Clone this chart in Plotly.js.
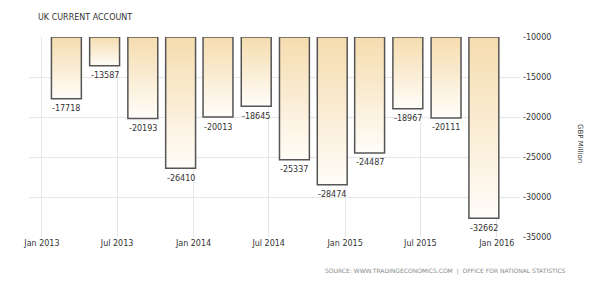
<!DOCTYPE html>
<html>
<head>
<meta charset="utf-8">
<script src="https://cdn.plot.ly/plotly-3.0.1.min.js"></script>
<style>
  html, body { margin: 0; padding: 0; background: #ffffff; }
  #chart { width: 607px; height: 284px; }
</style>
</head>
<body>
<div id="chart"></div>
<script>
// ---- data ----
const quarters = ['2013-03-01','2013-06-01','2013-09-01','2013-12-01',
                  '2014-03-01','2014-06-01','2014-09-01','2014-12-01',
                  '2015-03-01','2015-06-01','2015-09-01','2015-12-01'];
const balance = [-17718,-13587,-20193,-26410,-20013,-18645,-25337,-28474,-24487,-18967,-20111,-32662];
const baseline = -10000;
const xTickDates = ['2013-01-01','2013-07-01','2014-01-01','2014-07-01','2015-01-01','2015-07-01','2016-01-01'];
const xTickLabels = ['Jan 2013','Jul 2013','Jan 2014','Jul 2014','Jan 2015','Jul 2015','Jan 2016'];
const yTickVals = [-35000,-30000,-25000,-20000,-15000,-10000];
const yTickLabels = yTickVals.map(String);

const FONT = 'DejaVu Sans, Verdana, sans-serif';
const DAY = 86400000;

const trace = {
  type: 'bar',
  x: quarters,
  y: balance.map(v => v - baseline),
  base: baseline,
  width: 72 * DAY,
  marker: { color: '#f5dcae', line: { color: '#555555', width: 1.5 } },
  hoverinfo: 'none'
};

const valueLabels = quarters.map((q, i) => ({
  x: q, y: balance[i], xref: 'x', yref: 'y',
  text: String(balance[i]), showarrow: false,
  xanchor: 'center', yanchor: 'middle', yshift: -10,
  font: { family: FONT, size: 8, color: '#333333' }
}));

const layout = {
  width: 607, height: 284,
  margin: { l: 29, r: 87, t: 37, b: 47 },
  paper_bgcolor: '#ffffff',
  plot_bgcolor: '#ffffff',
  showlegend: false,
  font: { family: FONT, size: 8, color: '#333333' },
  xaxis: {
    type: 'date',
    range: ['2012-12-01', '2016-02-26'],
    tickmode: 'array',
    tickvals: xTickDates,
    ticktext: xTickLabels,
    showgrid: true,
    gridcolor: '#e6e6e6',
    gridwidth: 1,
    zeroline: false,
    showline: false,
    ticks: '',
    tickfont: { family: FONT, size: 8, color: '#333333' }
  },
  yaxis: {
    side: 'right',
    range: [-35000, -10000],
    tickmode: 'array',
    tickvals: yTickVals,
    ticktext: yTickLabels,
    showgrid: true,
    gridcolor: '#e6e6e6',
    gridwidth: 1,
    zeroline: false,
    showline: false,
    ticks: '',
    ticklabelstandoff: 2,
    tickfont: { family: FONT, size: 8, color: '#333333' }
  },
  annotations: valueLabels.concat([
    { text: 'UK CURRENT ACCOUNT', xref: 'paper', yref: 'paper', x: 0.015, y: 1, yshift: 20,
      xanchor: 'left', yanchor: 'middle', showarrow: false,
      font: { family: FONT, size: 8, color: '#333333' } },
    { text: 'GBP Million', xref: 'paper', yref: 'paper', x: 1, xshift: 60, y: 0.47,
      xanchor: 'center', yanchor: 'middle', textangle: 90, showarrow: false,
      font: { family: FONT, size: 7, color: '#333333' } },
    { text: 'SOURCE: WWW.TRADINGECONOMICS.COM  |  OFFICE FOR NATIONAL STATISTICS',
      xref: 'paper', yref: 'paper', x: 1, xshift: 48, y: 0, yshift: -34,
      xanchor: 'right', yanchor: 'middle', showarrow: false,
      font: { family: FONT, size: 6, color: '#8a8a8a' } }
  ])
};

Plotly.newPlot('chart', [trace], layout, { staticPlot: true, displayModeBar: false }).then(gd => {
  const svg = gd.querySelector('svg.main-svg');
  const ns = 'http://www.w3.org/2000/svg';
  let defs = svg.querySelector('defs');
  if (!defs) { defs = document.createElementNS(ns, 'defs'); svg.insertBefore(defs, svg.firstChild); }
  const grad = document.createElementNS(ns, 'linearGradient');
  grad.setAttribute('id', 'barGrad');
  grad.setAttribute('x1', '0'); grad.setAttribute('y1', '0');
  grad.setAttribute('x2', '0'); grad.setAttribute('y2', '1');
  [['0', '#f5dcae'], ['1', '#fffdf9']].forEach(([o, c]) => {
    const s = document.createElementNS(ns, 'stop');
    s.setAttribute('offset', o); s.setAttribute('stop-color', c);
    grad.appendChild(s);
  });
  defs.appendChild(grad);
  gd.querySelectorAll('.trace.bars .point path').forEach(p => {
    p.style.fill = 'url(#barGrad)';
  });
});
</script>
</body>
</html>
